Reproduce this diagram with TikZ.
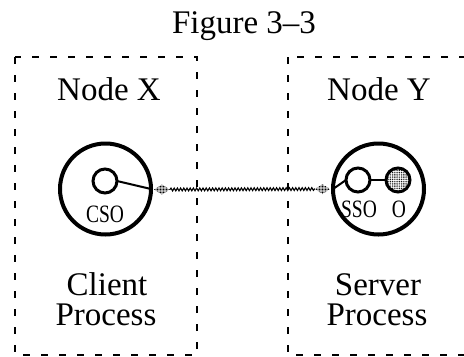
\documentclass[tikz,border=0pt]{standalone}
\usepackage{fontspec}
\setmainfont{Liberation Serif}
\newfontfamily\narrowserif[FakeStretch=0.78]{Liberation Serif}
\usetikzlibrary{decorations.pathmorphing,patterns.meta,calc}
\begin{document}
\begin{tikzpicture}[x=1bp,y=-1bp,
  procbox/.style={draw, line width=2bp, dash pattern=on 7bp off 11bp},
  bigtext/.style={font=\fontsize{33bp}{31bp}\selectfont, inner sep=0, anchor=base},
  objtext/.style={font=\narrowserif\fontsize{25bp}{25bp}\selectfont, inner sep=0, anchor=base},
  proc/.style={circle, draw, line width=4bp, minimum size=91bp, inner sep=0, outer sep=0},
  obj/.style={circle, draw, line width=3bp, minimum size=24bp, inner sep=0, outer sep=0},
  stipple/.style={pattern={Dots[distance=1.8bp, radius=0.6bp]}, pattern color=black},
  darkstipple/.style={pattern={Dots[distance=1.5bp, radius=0.65bp]}, pattern color=black},
  wire/.style={line width=2bp},
  link/.style={line width=1.1bp, decorate,
    decoration={snake, amplitude=1.4bp, segment length=3.2bp}}
]
\useasboundingbox (0,0) rectangle (464,356);

% dashed process boundaries (the right one runs off the page)
\draw[procbox] (15,57) rectangle (197,355);
\draw[procbox] (288,57) rectangle (484,355);

% headings
\node[bigtext] (title) at (244,33) {Figure 3–3};
\node[bigtext] (nodex) at (109,100) {Node X};
\node[bigtext] (nodey) at (379,100) {Node Y};
\node[bigtext] (client) at (107,295) {Client};
\node[bigtext] (cproc) at (106,325) {Process};
\node[bigtext] (server) at (378,295) {Server};
\node[bigtext] (sproc) at (377,325) {Process};

% processes and their objects
\node[proc] (lproc) at (105.5,189) {};
\node[proc] (rproc) at (378.5,189) {};
\node[obj] (cso) at (105,181) {};
\node[obj] (sso) at (358,180) {};
\node[obj, stipple] (obj) at (398,180) {};

\draw[wire] (cso.east) -- (lproc.east);
\draw[wire] (sso.west) -- (rproc.west);
\draw[wire] (sso.east) -- (obj.west);

\node[objtext] (csolabel) at (105,222.5) {CSO};
\node[objtext] (ssolabel) at (359,217) {SSO};
\node[objtext] (olabel) at (399,217) {O};

% link between the two processes
\coordinate (la) at ($(lproc.east)+(3,0.5)$);
\coordinate (lb) at ($(lproc.east)+(19,0.5)$);
\coordinate (ra) at ($(rproc.west)+(-18,0)$);
\coordinate (rb) at ($(rproc.west)+(-3,0)$);
\fill[darkstipple] (la) -- ($(la)!0.5!(lb)+(0,-5)$) -- (lb) -- ($(la)!0.5!(lb)+(0,5)$) -- cycle;
\fill[darkstipple] (ra) -- ($(ra)!0.5!(rb)+(0,-5)$) -- (rb) -- ($(ra)!0.5!(rb)+(0,5)$) -- cycle;
\draw[link] (lb) -- (ra);
\end{tikzpicture}
\end{document}
